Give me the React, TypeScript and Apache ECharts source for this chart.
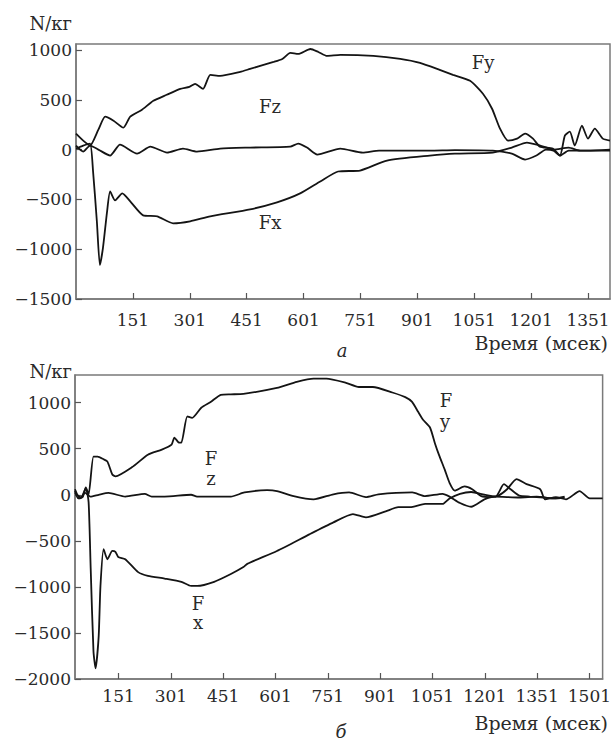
import React, { useEffect, useRef } from "react";
import * as echarts from "echarts";

// ---- Chart (a) ----
const topXTicks = [151, 301, 451, 601, 751, 901, 1051, 1201, 1351];
const topYTicks = [-1500, -1000, -500, 0, 500, 1000];

const topFy: [number, number][] = [
  [1, 160], [20, 90], [38, 40], [60, 200], [78, 330], [100, 290], [126, 220], [144, 330], [175, 400],
  [205, 490], [240, 550], [276, 610], [300, 630], [315, 660], [336, 610], [355, 750], [381, 740],
  [434, 780], [460, 810], [522, 880], [545, 910], [566, 970], [587, 960], [619, 1010], [640, 980],
  [663, 940], [698, 950], [785, 940], [856, 910], [908, 870], [960, 800], [995, 750], [1040, 690],
  [1074, 560], [1098, 410], [1119, 210], [1140, 90], [1164, 110], [1185, 160], [1206, 110],
  [1224, 30], [1258, 10], [1277, -60], [1290, 140], [1303, 180], [1316, 40], [1335, 240],
  [1351, 110], [1369, 210], [1390, 110], [1409, 90],
];
const topFz: [number, number][] = [
  [1, 40], [20, -20], [38, 40], [60, 0], [91, -60], [117, 50], [162, -40], [197, 30], [241, -30],
  [283, 10], [320, -20], [381, 10], [460, 20], [566, 30], [587, 60], [610, 20], [637, -50],
  [698, 10], [757, -30], [800, -10], [934, -10], [1000, -5], [1100, -10], [1150, -40],
  [1185, -100], [1215, -60], [1240, 0], [1260, -10], [1277, -60], [1300, -10], [1350, -10], [1409, 0],
];
const topFx: [number, number][] = [
  [1, 10], [20, 40], [38, 60], [46, -220], [56, -720], [64, -1160], [72, -990], [83, -620],
  [91, -420], [104, -510], [123, -440], [144, -520], [178, -660], [215, -670], [257, -740],
  [302, -720], [355, -670], [460, -600], [531, -530], [592, -440], [645, -320], [692, -220],
  [750, -210], [821, -110], [934, -60], [1000, -40], [1100, -30], [1150, 20], [1190, 70],
  [1225, 40], [1260, 0], [1300, 20], [1330, -10], [1409, -10],
];

// ---- Chart (б) ----
const botXTicks = [151, 301, 451, 601, 751, 901, 1051, 1201, 1351, 1501];
const botYTicks = [-2000, -1500, -1000, -500, 0, 500, 1000];

const botFy: [number, number][] = [
  [26, 40], [35, -40], [48, -25], [57, 80], [65, 5], [79, 415], [91, 415], [108, 385], [119, 360],
  [133, 220], [142, 200], [190, 300], [235, 435], [275, 490], [303, 545], [311, 620], [325, 565],
  [331, 565], [348, 850], [362, 835], [388, 945], [416, 1010], [444, 1085], [473, 1090], [509, 1095],
  [605, 1160], [662, 1225], [710, 1260], [747, 1260], [803, 1215], [840, 1170], [880, 1170],
  [936, 1110], [973, 1060], [992, 1010], [1010, 900], [1024, 815], [1044, 730], [1058, 560],
  [1070, 430], [1086, 275], [1100, 130], [1115, 45], [1143, 90], [1165, 60], [1191, -15],
  [1219, -25], [1240, -10], [1265, 60], [1292, 170], [1321, 115], [1360, 60], [1374, -50],
  [1405, -25], [1434, -50], [1473, 40], [1502, -40], [1539, -40],
];
const botFz: [number, number][] = [
  [26, 60], [40, -40], [55, 20], [70, -20], [94, 0], [122, 20], [170, -20], [226, 10], [246, -20],
  [283, -20], [359, 0], [376, -20], [473, -20], [512, 25], [577, 50], [605, 40], [653, -15],
  [710, -50], [767, 5], [812, 25], [860, -25], [896, 5], [993, 25], [1030, -15], [1080, 10],
  [1100, -20], [1130, -90], [1162, -130], [1200, -50], [1230, -20], [1300, -30], [1350, -20],
  [1400, -40], [1430, -30],
];
const botFx: [number, number][] = [
  [26, 20], [43, -30], [57, 70], [65, -80], [71, -800], [79, -1700], [85, -1885], [94, -1530],
  [99, -990], [108, -590], [119, -700], [133, -610], [142, -620], [150, -675], [170, -700],
  [207, -840], [235, -880], [283, -910], [331, -945], [359, -990], [376, -990], [425, -945],
  [473, -860], [509, -785], [520, -750], [605, -610], [698, -430], [767, -300], [823, -210],
  [860, -245], [917, -180], [953, -135], [987, -135], [1030, -100], [1080, -100], [1100, -40],
  [1130, 10], [1162, 30], [1200, 0], [1232, -20], [1256, 115], [1275, 60], [1300, -10],
  [1330, -20], [1370, -30], [1400, -40], [1430, -20],
];

const FONT = "'DejaVu Serif', serif";
const FS = 17;
const frame = "#7a7a7a";
const ink = "#141414";
const txtColor = "#2a2a2a";

const fmtX = (v: number) => String(v);
const fmtY = (v: number) => (v < 0 ? "\u2212" + Math.abs(v) : String(v));

function xAxis(gridIndex: number, min: number, max: number, ticks: number[], margin: number) {
  return {
    type: "value",
    gridIndex,
    min,
    max,
    axisLine: { show: true, onZero: false, lineStyle: { color: frame, width: 1.5 } },
    axisTick: { show: true, inside: true, length: 6, customValues: ticks, lineStyle: { color: "#555", width: 1.2 } },
    axisLabel: { customValues: ticks, color: txtColor, fontFamily: FONT, fontSize: FS, margin, formatter: fmtX },
    splitLine: { show: false },
  };
}
function yAxis(gridIndex: number, min: number, max: number, ticks: number[]) {
  return {
    type: "value",
    gridIndex,
    min,
    max,
    axisLine: { show: true, onZero: false, lineStyle: { color: frame, width: 1.5 } },
    axisTick: { show: true, inside: true, length: 6, customValues: ticks, lineStyle: { color: "#555", width: 1.2 } },
    axisLabel: { customValues: ticks, color: txtColor, fontFamily: FONT, fontSize: FS, margin: 4, formatter: fmtY },
    splitLine: { show: false },
  };
}
function line(name: string, idx: number, data: [number, number][]) {
  return {
    type: "line",
    name,
    xAxisIndex: idx,
    yAxisIndex: idx,
    data,
    showSymbol: false,
    symbol: "none",
    smooth: 0.2,
    lineStyle: { color: ink, width: 1.8 },
  };
}
function txt(text: string, x: number, y: number, align = "center", italic = false, size = FS) {
  return {
    type: "text",
    x,
    y,
    style: {
      text,
      fill: txtColor,
      fontFamily: FONT,
      fontSize: size,
      fontStyle: italic ? "italic" : "normal",
      align,
      verticalAlign: "middle",
    },
  };
}

export default function App() {
  const ref = useRef<HTMLDivElement>(null);
  useEffect(() => {
    if (!ref.current) return;
    const chart = echarts.init(ref.current, null, { renderer: "svg" });
    chart.setOption({
      animation: false,
      backgroundColor: "#ffffff",
      grid: [
        { left: 76, top: 44, width: 534, height: 255, show: true, borderColor: frame, borderWidth: 1.5, containLabel: false },
        { left: 75, top: 375, width: 535, height: 304, show: true, borderColor: frame, borderWidth: 1.5, containLabel: false },
      ],
      xAxis: [xAxis(0, 1, 1409, topXTicks, 12), xAxis(1, 26, 1539, botXTicks, 8)],
      yAxis: [yAxis(0, -1500, 1060, topYTicks), yAxis(1, -2000, 1300, botYTicks)],
      series: [
        line("Fy", 0, topFy),
        line("Fz", 0, topFz),
        line("Fx", 0, topFx),
        line("Fy", 1, botFy),
        line("Fz", 1, botFz),
        line("Fx", 1, botFx),
      ],
      graphic: [
        txt("N/кг", 72, 23, "right", false, 18),
        txt("Fz", 270, 106, "center", false, 18),
        txt("Fx", 270, 222, "center", false, 18),
        txt("Fy", 483, 62, "center", false, 18),
        txt("Время (мсек)", 608, 343, "right", false, 19),
        txt("а", 342, 350, "center", true, 18),
        txt("N/кг", 72, 371, "right", false, 18),
        txt("F", 211, 458, "center", false, 18),
        txt("z", 211, 478, "center", false, 18),
        txt("F", 198, 603, "center", false, 18),
        txt("x", 198, 622, "center", false, 18),
        txt("F", 446, 400, "center", false, 18),
        txt("y", 445, 421, "center", false, 18),
        txt("Время (мсек)", 608, 723, "right", false, 19),
        txt("б", 341, 731, "center", true, 18),
      ],
    });
    return () => chart.dispose();
  }, []);
  return <div ref={ref} style={{ position: "absolute", left: 0, top: 0, width: 614, height: 744 }} />;
}
